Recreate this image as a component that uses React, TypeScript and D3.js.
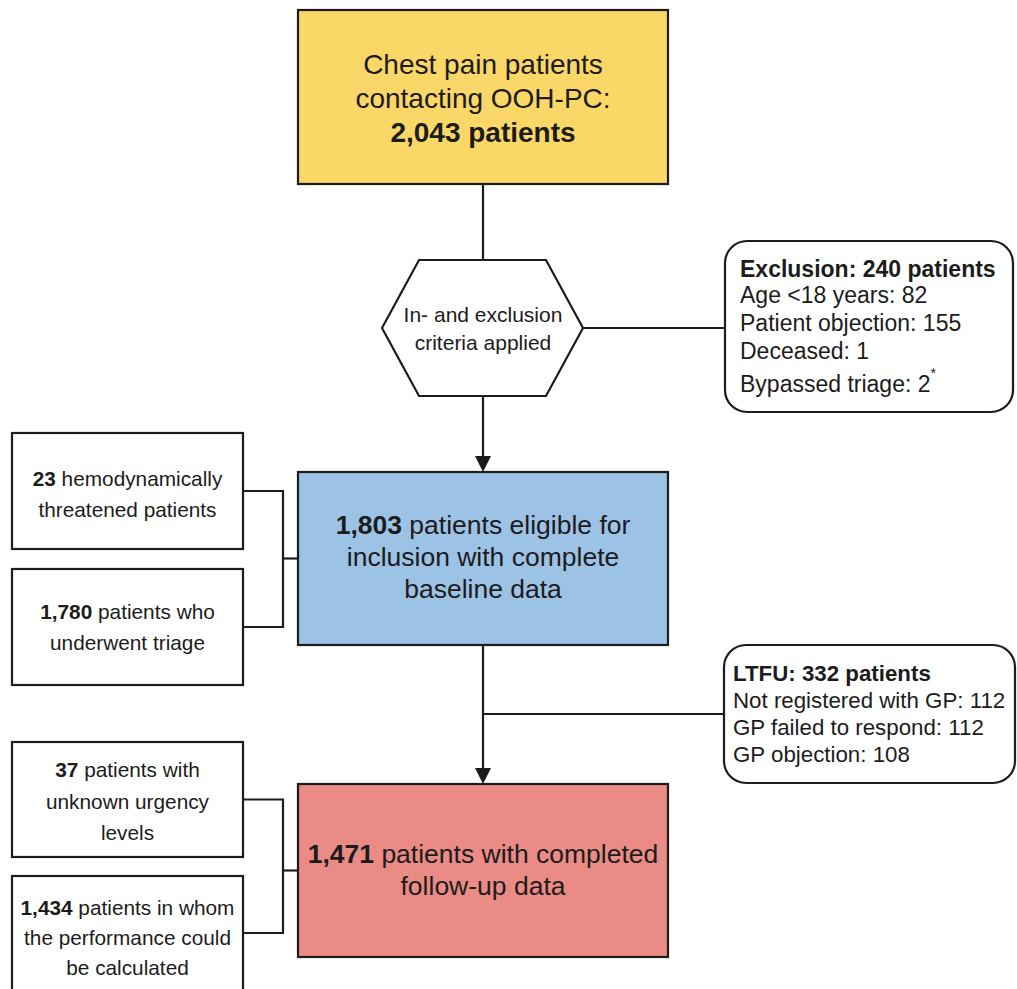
import * as d3 from 'd3';

// labels — each line is [bold part, regular part]
type Line = [string, string];

const startLines: Line[] = [
  ['', 'Chest pain patients'],
  ['', 'contacting OOH-PC:'],
  ['2,043 patients', ''],
];
const criteriaLines = ['In- and exclusion', 'criteria applied'];
const exclusionTitle = 'Exclusion: 240 patients';
const exclusionReasons = ['Age <18 years: 82', 'Patient objection: 155', 'Deceased: 1', 'Bypassed triage: 2'];
const exclusionFootnote = '*';
const eligibleLines: Line[] = [
  ['1,803', ' patients eligible for'],
  ['', 'inclusion with complete'],
  ['', 'baseline data'],
];
const eligibleParts: Line[][] = [
  [['23', ' hemodynamically'], ['', 'threatened patients']],
  [['1,780', ' patients who'], ['', 'underwent triage']],
];
const ltfuTitle = 'LTFU: 332 patients';
const ltfuReasons = ['Not registered with GP: 112', 'GP failed to respond: 112', 'GP objection: 108'];
const followUpLines: Line[] = [
  ['1,471', ' patients with completed'],
  ['', 'follow-up data'],
];
const followUpParts: Line[][] = [
  [['37', ' patients with'], ['', 'unknown urgency'], ['', 'levels']],
  [['1,434', ' patients in whom'], ['', 'the performance could'], ['', 'be calculated']],
];

const W = 1017;
const H = 989;
const FONT = "'Liberation Sans', Arial, Helvetica, sans-serif";
const INK = '#1c1c1c';
const SW = 2.2;

const YELLOW = '#fbd767';
const BLUE = '#9cc3e6';
const RED = '#ea8b85';

// main column
const mainX0 = 298;
const mainX1 = 668;
const cx = (mainX0 + mainX1) / 2;
const startBox = { y0: 10, y1: 184, base: 74, lh: 34, fs: 28 };
const eligibleBox = { y0: 472, y1: 645, base: 534, lh: 32, fs: 26.5 };
const followBox = { y0: 784, y1: 957, base: 863, lh: 32, fs: 26.5 };

const hex = { y0: 260, y1: 396, xl: 382, xr: 583, inset: 37 };

// side boxes on the left
const sideX0 = 12;
const sideX1 = 243;
const joinX = 283;
const eligibleSide = [
  { y0: 433, y1: 549, base: 486, lh: 31 },
  { y0: 569, y1: 685, base: 619, lh: 31 },
];
const followSide = [
  { y0: 742, y1: 857, base: 777, lh: 31.5 },
  { y0: 876, y1: 1000, base: 915, lh: 30, joinY: 933 },
];

const exclBox = { x0: 725, x1: 1013, y0: 241, y1: 412, tx: 740, base: 277 };
const ltfuBox = { x0: 724, x1: 1015, y0: 645, y1: 783, tx: 733, base: 681 };

const line = d3.line<[number, number]>();

function Label({ lines, x, base, lh, fs }: { lines: Line[]; x: number; base: number; lh: number; fs: number }) {
  return (
    <text x={x} textAnchor="middle" fontSize={fs} fill={INK}>
      {lines.map((l, i) => (
        <tspan key={i} x={x} y={base + i * lh}>
          {l[0] && <tspan fontWeight="bold">{l[0]}</tspan>}
          {l[1]}
        </tspan>
      ))}
    </text>
  );
}

function Arrow({ x, y0, y1 }: { x: number; y0: number; y1: number }) {
  const head = 16;
  return (
    <g>
      <path d={line([[x, y0], [x, y1 - head + 2]]) ?? ''} stroke={INK} strokeWidth={SW} fill="none" />
      <path
        d={line([[x - 8, y1 - head], [x + 8, y1 - head], [x, y1]]) + 'Z'}
        fill={INK}
      />
    </g>
  );
}

function SideGroup({ parts, boxes, targetY }: { parts: Line[][]; boxes: any[]; targetY: number }) {
  const ys = boxes.map((b) => (b.joinY ?? (b.y0 + b.y1) / 2));
  return (
    <g>
      {boxes.map((b, i) => (
        <g key={i}>
          <rect x={sideX0} y={b.y0} width={sideX1 - sideX0} height={b.y1 - b.y0} fill="#fff" stroke={INK} strokeWidth={SW} />
          <Label lines={parts[i]} x={(sideX0 + sideX1) / 2} base={b.base} lh={b.lh} fs={20.8} />
        </g>
      ))}
      <path
        d={line([[sideX1, ys[0]], [joinX, ys[0]], [joinX, ys[1]], [sideX1, ys[1]]]) ?? ''}
        fill="none"
        stroke={INK}
        strokeWidth={SW}
      />
      <path d={line([[joinX, targetY], [mainX0, targetY]]) ?? ''} stroke={INK} strokeWidth={SW} />
    </g>
  );
}

export default function App() {
  const hy = (hex.y0 + hex.y1) / 2;
  const hexPts: [number, number][] = [
    [hex.xl, hy],
    [hex.xl + hex.inset, hex.y0],
    [hex.xr - hex.inset, hex.y0],
    [hex.xr, hy],
    [hex.xr - hex.inset, hex.y1],
    [hex.xl + hex.inset, hex.y1],
  ];
  const ltfuY = (ltfuBox.y0 + ltfuBox.y1) / 2;

  return (
    <svg
      width={W}
      height={H}
      style={{ position: 'absolute', left: 0, top: 0, display: 'block', background: '#fff' }}
      fontFamily={FONT}
    >
      {/* connectors */}
      <path d={line([[cx, startBox.y1], [cx, hex.y0]]) ?? ''} stroke={INK} strokeWidth={SW} />
      <path d={line([[hex.xr, hy], [exclBox.x0, hy]]) ?? ''} stroke={INK} strokeWidth={SW} />
      <Arrow x={cx} y0={hex.y1} y1={eligibleBox.y0} />
      <Arrow x={cx} y0={eligibleBox.y1} y1={followBox.y0} />
      <path d={line([[cx, ltfuY], [ltfuBox.x0, ltfuY]]) ?? ''} stroke={INK} strokeWidth={SW} />

      {/* start */}
      <rect x={mainX0} y={startBox.y0} width={mainX1 - mainX0} height={startBox.y1 - startBox.y0} fill={YELLOW} stroke={INK} strokeWidth={SW} />
      <Label lines={startLines} x={cx} base={startBox.base} lh={startBox.lh} fs={startBox.fs} />

      {/* criteria hexagon */}
      <path d={line(hexPts) + 'Z'} fill="#fff" stroke={INK} strokeWidth={SW} />
      <text textAnchor="middle" fontSize={21} fill={INK}>
        {criteriaLines.map((t, i) => (
          <tspan key={i} x={cx} y={322 + i * 28}>
            {t}
          </tspan>
        ))}
      </text>

      {/* exclusion */}
      <rect x={exclBox.x0} y={exclBox.y0} width={exclBox.x1 - exclBox.x0} height={exclBox.y1 - exclBox.y0} rx={22} fill="#fff" stroke={INK} strokeWidth={SW} />
      <text fontSize={23} fill={INK}>
        <tspan x={exclBox.tx} y={exclBox.base} fontWeight="bold">
          {exclusionTitle}
        </tspan>
        {exclusionReasons.map((t, i) => (
          <tspan key={i} x={exclBox.tx} y={exclBox.base + 26 + i * 28 + (i === exclusionReasons.length - 1 ? 5 : 0)}>
            {t}
            {i === exclusionReasons.length - 1 && (
              <tspan fontSize={14} dy={-14}>
                {exclusionFootnote}
              </tspan>
            )}
          </tspan>
        ))}
      </text>

      {/* eligible */}
      <rect x={mainX0} y={eligibleBox.y0} width={mainX1 - mainX0} height={eligibleBox.y1 - eligibleBox.y0} fill={BLUE} stroke={INK} strokeWidth={SW} />
      <Label lines={eligibleLines} x={cx} base={eligibleBox.base} lh={eligibleBox.lh} fs={eligibleBox.fs} />
      <SideGroup parts={eligibleParts} boxes={eligibleSide} targetY={(eligibleBox.y0 + eligibleBox.y1) / 2} />

      {/* lost to follow-up */}
      <rect x={ltfuBox.x0} y={ltfuBox.y0} width={ltfuBox.x1 - ltfuBox.x0} height={ltfuBox.y1 - ltfuBox.y0} rx={22} fill="#fff" stroke={INK} strokeWidth={SW} />
      <text fontSize={22.3} fill={INK}>
        <tspan x={ltfuBox.tx} y={ltfuBox.base} fontWeight="bold">
          {ltfuTitle}
        </tspan>
        {ltfuReasons.map((t, i) => (
          <tspan key={i} x={ltfuBox.tx} y={ltfuBox.base + 27 + i * 27}>
            {t}
          </tspan>
        ))}
      </text>

      {/* follow-up */}
      <rect x={mainX0} y={followBox.y0} width={mainX1 - mainX0} height={followBox.y1 - followBox.y0} fill={RED} stroke={INK} strokeWidth={SW} />
      <Label lines={followUpLines} x={cx} base={followBox.base} lh={followBox.lh} fs={followBox.fs} />
      <SideGroup parts={followUpParts} boxes={followSide} targetY={(followBox.y0 + followBox.y1) / 2} />
    </svg>
  );
}
